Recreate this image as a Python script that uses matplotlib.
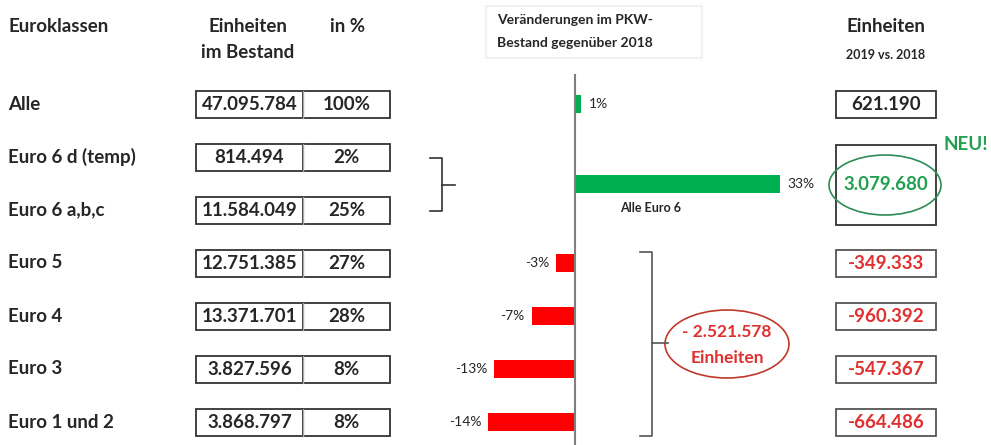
import matplotlib
matplotlib.use("Agg")
import matplotlib.pyplot as plt
import matplotlib.patches as patches

plt.rcParams['font.family'] = ['Lato', 'DejaVu Sans']

# data
klassen = ['Alle', 'Euro 6 d (temp)', 'Euro 6 a,b,c', 'Euro 5', 'Euro 4', 'Euro 3', 'Euro 1 und 2']
bestand = ['47.095.784', '814.494', '11.584.049', '12.751.385', '13.371.701', '3.827.596', '3.868.797']
anteil = ['100%', '2%', '25%', '27%', '28%', '8%', '8%']

bar_names = ['Alle', 'Alle Euro 6', 'Euro 5', 'Euro 4', 'Euro 3', 'Euro 1 und 2']
bar_pct = [1, 33, -3, -7, -13, -14]
diff_units = ['621.190', '3.079.680', '-349.333', '-960.392', '-547.367', '-664.486']
summe_minus = '- 2.521.578'

GREEN = '#00B050'
RED = '#FF0000'
TXT = '#262626'
FS = 13.5

fig = plt.figure(figsize=(9.91, 4.45), dpi=100)
ax = fig.add_axes([0, 0, 1, 1])
ax.set_xlim(0, 991)
ax.set_ylim(445, 0)
ax.axis('off')

# layout
row_y = [104 + 53 * i for i in range(7)]
bar_y = [row_y[0], (row_y[1] + row_y[2]) / 2, row_y[3], row_y[4], row_y[5], row_y[6]]
x0 = 575          # zero line in pixels
px_per_pct = 6.2

# headers
ax.text(8, 27, 'Euroklassen', fontsize=FS, fontweight='bold', color=TXT, va='center')
ax.text(248, 27, 'Einheiten', fontsize=FS, fontweight='bold', color=TXT, va='center', ha='center')
ax.text(248, 53, 'im Bestand', fontsize=FS, fontweight='bold', color=TXT, va='center', ha='center')
ax.text(348, 27, 'in %', fontsize=FS, fontweight='bold', color=TXT, va='center', ha='center')
ax.text(886, 27, 'Einheiten', fontsize=FS, fontweight='bold', color=TXT, va='center', ha='center')
ax.text(886, 55, '2019 vs. 2018', fontsize=9, fontweight='bold', color=TXT, va='center', ha='center')

ax.add_patch(patches.Rectangle((486, 6), 216, 52, facecolor='white', edgecolor='#f0f0f0', lw=1.5))
ax.text(497, 20, 'Veränderungen im PKW-', fontsize=10, fontweight='bold', color=TXT, va='center', ha='left')
ax.text(497, 43, 'Bestand gegenüber 2018', fontsize=10, fontweight='bold', color=TXT, va='center', ha='left')

# left table
for i, (k, b, a) in enumerate(zip(klassen, bestand, anteil)):
    y = row_y[i]
    ax.text(8, y, k, fontsize=FS, fontweight='bold', color=TXT, va='center')
    ax.add_patch(patches.Rectangle((196, y - 13), 107, 27, facecolor='white', edgecolor='#333333', lw=1.3))
    ax.add_patch(patches.Rectangle((303, y - 13), 87, 27, facecolor='white', edgecolor='#333333', lw=1.3))
    ax.plot([303, 303], [y - 13, y + 14], color='#aaaaaa', lw=1)
    ax.text(249.5, y + 0.5, b, fontsize=FS, fontweight='bold', color=TXT, va='center', ha='center')
    ax.text(346.5, y + 0.5, a, fontsize=FS, fontweight='bold', color=TXT, va='center', ha='center')

# brace Euro 6
ax.plot([430, 442, 442, 430], [158, 158, 211, 211], color='#333333', lw=1.2)
ax.plot([442, 455], [184.5, 184.5], color='#333333', lw=1.2)

# bar chart in its own axes (percent scale)
axb = fig.add_axes([0, 0, 1, 1])
axb.patch.set_alpha(0)
axb.set_xlim(-x0 / px_per_pct, (991 - x0) / px_per_pct)
axb.set_ylim(445, 0)
axb.axis('off')
colors = [GREEN if p > 0 else RED for p in bar_pct]
axb.barh(bar_y, bar_pct, height=18, color=colors, edgecolor='none')
axb.plot([0, 0], [75, 445], color='#7f7f7f', lw=1.5)
for y, p in zip(bar_y, bar_pct):
    if p > 0:
        axb.text(p + 1.3, y, f'{p}%', fontsize=10, color=TXT, va='center', ha='left')
    else:
        axb.text(p - 1.1, y, f'{p}%', fontsize=10, color=TXT, va='center', ha='right')
axb.text(7.2, bar_y[1] + 25, bar_names[1], fontsize=9, fontweight='bold', color=TXT, va='center', ha='left')

# bracket for negative classes
ax.plot([640, 652, 652, 640], [252, 252, 436, 436], color='#555555', lw=1.2)
ax.plot([652, 668], [343, 343], color='#555555', lw=1.2)
ax.add_patch(patches.Ellipse((727, 344), 124, 68, facecolor='white', edgecolor='#c0392b', lw=1.2))
ax.text(727, 332, summe_minus, fontsize=12.5, fontweight='bold', color='#e03030', va='center', ha='center')
ax.text(727, 358, 'Einheiten', fontsize=12.5, fontweight='bold', color='#e03030', va='center', ha='center')

# right column
ax.add_patch(patches.Rectangle((836, 91), 100, 27, facecolor='white', edgecolor='#333333', lw=1.3))
ax.text(886, 104.5, diff_units[0], fontsize=FS, fontweight='bold', color=TXT, va='center', ha='center')
ax.add_patch(patches.Rectangle((836, 145), 100, 80, facecolor='white', edgecolor='#333333', lw=1.3))
ax.add_patch(patches.Ellipse((885, 185), 112, 60, facecolor='none', edgecolor='#2e8b57', lw=1.2))
ax.text(886, 185, diff_units[1], fontsize=FS, fontweight='bold', color='#22a04f', va='center', ha='center')
ax.text(966, 145, 'NEU!', fontsize=13.5, fontweight='bold', color='#22a04f', va='center', ha='center')
for i in range(2, 6):
    y = bar_y[i]
    ax.add_patch(patches.Rectangle((836, y - 13), 100, 27, facecolor='white', edgecolor='#555555', lw=1.3))
    ax.text(886, y + 0.5, diff_units[i], fontsize=FS, fontweight='bold', color='#e03030', va='center', ha='center')

fig.savefig('out.png', dpi=100)
